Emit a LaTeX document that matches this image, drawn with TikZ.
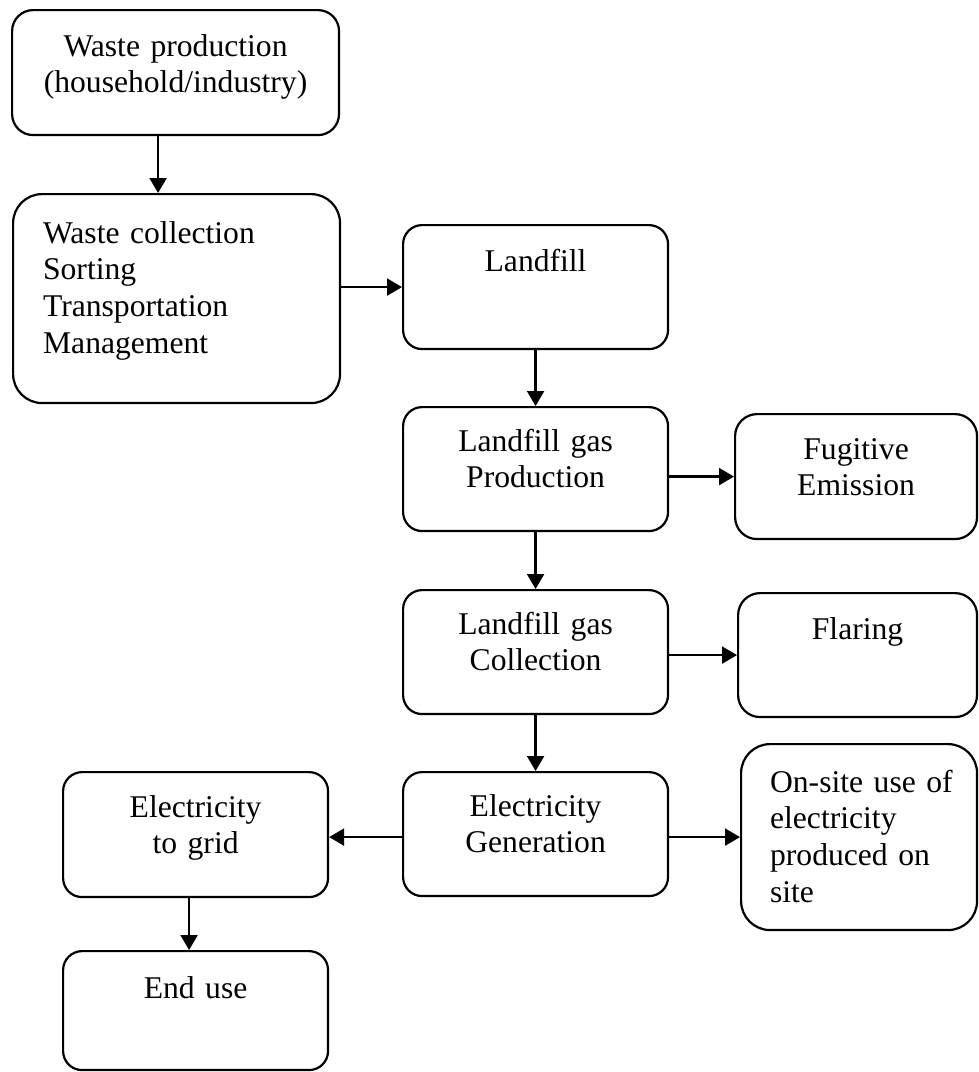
\documentclass[tikz,border=0pt]{standalone}
\usepackage{fontspec}
\setmainfont{Liberation Serif}
\usetikzlibrary{arrows.meta}

\begin{document}
\begin{tikzpicture}[
  x=0.02cm, y=-0.02cm,
  >={Triangle[length=0.3cm, width=0.34cm]},
  every node/.style={font=\fontsize{18}{20.9}\selectfont},
  stage/.style={draw=black, line width=1.25pt, rounded corners=0.38cm, anchor=north west,
                inner sep=0pt, align=center, text width=5.3cm},
  stageleft/.style={stage, align=left, inner xsep=0.6cm},
  flow/.style={->, line width=1.25pt},
]
\useasboundingbox (0,0) rectangle (978,1072);

% ---- left column ----
\node[stage, text width=6.54cm, text height=0.92cm, text depth=1.58cm, rounded corners=0.42cm]
  (prod) at (11,9) {Waste production\\(household/industry)};
\node[stageleft, text width=5.34cm, text height=0.98cm, text depth=3.2cm, rounded corners=0.58cm]
  (collect) at (12,193) {Waste collection\\Sorting\\Transportation\\Management};
% ---- middle column ----
\node[stage, text height=0.92cm, text depth=1.56cm] (landfill) at (402,224) {Landfill};
\node[stage, text height=0.88cm, text depth=1.6cm] (lgp) at (402,406) {Landfill gas\\Production};
\node[stage, text height=0.88cm, text depth=1.6cm] (lgc) at (402,589) {Landfill gas\\Collection};
\node[stage, text height=0.88cm, text depth=1.6cm] (gen) at (402,771) {Electricity\\Generation};
% ---- right column ----
\node[stage, text width=4.84cm, text height=0.9cm, text depth=1.6cm, rounded corners=0.44cm]
  (fugitive) at (734,413) {Fugitive\\Emission};
\node[stage, text width=4.78cm, text height=0.92cm, text depth=1.56cm, rounded corners=0.44cm]
  (flaring) at (737,592) {Flaring};
\node[stageleft, inner xsep=0.58cm, text width=3.56cm, text height=0.96cm, text depth=2.76cm, rounded corners=0.58cm]
  (onsite) at (740,743) {\mbox{On-site use of}\\electricity\\\mbox{produced on}\\site};
% ---- grid branch ----
\node[stage, text height=0.9cm, text depth=1.6cm] (grid) at (62,771) {Electricity\\to grid};
\node[stage, text height=0.94cm, text depth=1.44cm] (enduse) at (62,950) {End use};

% ---- connectors ----
\draw[flow] ([xshift=-0.35cm]prod.south) -- ([xshift=-0.35cm]prod.south |- collect.north);
\draw[flow] (collect.east |- landfill.west) -- (landfill.west);
\draw[flow] (landfill) -- (lgp);
\draw[flow] (fugitive.west -| lgp.east) -- (fugitive.west);
\draw[flow] (lgp) -- (lgc);
\draw[flow] (flaring.west -| lgc.east) -- (flaring.west);
\draw[flow] (lgc) -- (gen);
\draw[flow] (onsite.west -| gen.east) -- (onsite.west);
\draw[flow] (onsite.west -| gen.west) -- (onsite.west -| grid.east);
\draw[flow] ([xshift=-0.13cm]grid.south) -- ([xshift=-0.13cm]grid.south |- enduse.north);

\end{tikzpicture}
\end{document}
